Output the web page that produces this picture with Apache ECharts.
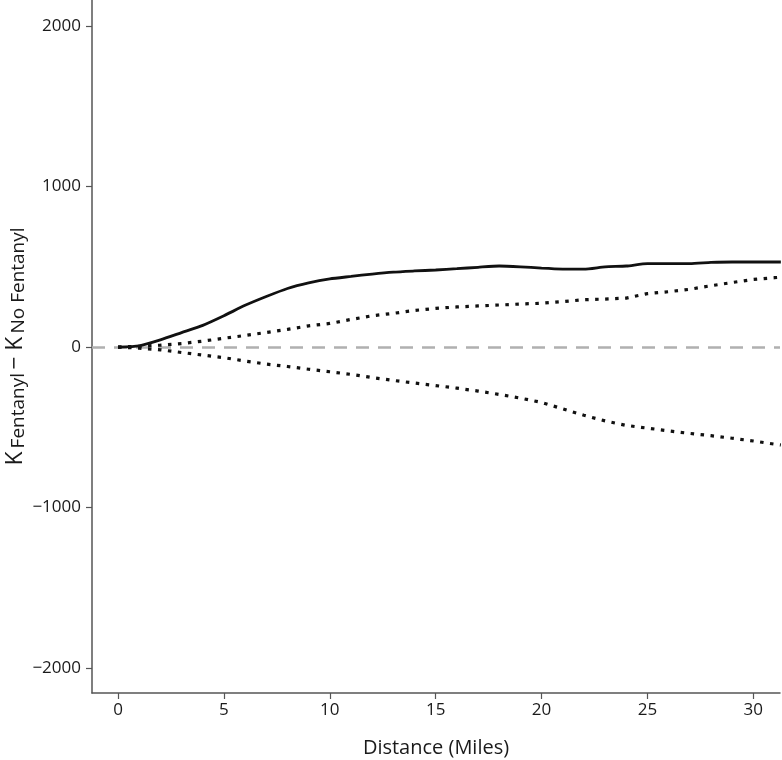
<!DOCTYPE html>
<html>
<head>
<meta charset="utf-8">
<script src="https://cdn.jsdelivr.net/npm/echarts@6/dist/echarts.min.js"></script>
<style>html,body{margin:0;padding:0;background:#fff}#c{width:782px;height:760px}</style>
</head>
<body>
<div id="c"></div>
<script>
var distance = [0,1,2,3,4,5,6,7,8,9,10,11,12,13,14,15,16,17,18,19,20,21,22,23,24,25,26,27,28,29,30,31,31.3];
var observed = [0,8,45,90,135,195,260,315,365,400,425,440,455,467,474,480,488,497,505,500,492,486,485,500,505,520,520,520,527,530,530,530,530];
var upperEnvelope = [0,5,12,22,37,55,72,91,110,132,147,172,195,210,228,241,250,256,262,268,273,283,295,299,305,333,345,360,382,402,421,432,435];
var lowerEnvelope = [0,-7,-17,-34,-50,-66,-87,-106,-121,-138,-154,-170,-190,-208,-224,-240,-256,-274,-295,-318,-345,-385,-425,-460,-488,-505,-522,-538,-552,-568,-585,-605,-610];
var xTicks = [0,5,10,15,20,25,30];
var yTicks = [-2000,-1000,0,1000,2000];

function pairs(ys){ return distance.map(function(d,i){ return [d, ys[i]]; }); }

var font = '"Open Sans", "Noto Sans", sans-serif';
var chart = echarts.init(document.getElementById('c'), null, {renderer:'canvas'});
chart.setOption({
  animation:false,
  backgroundColor:'#fff',
  grid:{left:92, right:2, top:0, bottom:67, containLabel:false, outerBoundsMode:'none'},
  xAxis:{
    type:'value', min:-1.23, max:31.26,
    name:'Distance (Miles)', nameLocation:'middle', nameGap:45, nameMoveOverlap:false,
    nameTextStyle:{fontFamily:font, fontSize:20, color:'#1a1a1a'},
    axisLine:{show:true, onZero:false, lineStyle:{color:'#555', width:1.5}},
    axisTick:{show:true, length:6, customValues:xTicks, lineStyle:{color:'#555', width:1.2}},
    axisLabel:{customValues:xTicks, fontFamily:font, fontSize:17, color:'#1a1a1a', margin:9},
    splitLine:{show:false}
  },
  yAxis:{
    type:'value', min:-2155, max:2162,
    name:'{k|K} {s|Fentanyl} {k|− K} {s|No Fentanyl}', nameLocation:'middle', nameGap:65, nameMoveOverlap:false,
    nameTextStyle:{
      fontFamily:font, color:'#1a1a1a',
      rich:{
        k:{fontFamily:font, fontSize:23, color:'#1a1a1a', verticalAlign:'bottom', lineHeight:26},
        s:{fontFamily:font, fontSize:19, color:'#1a1a1a', verticalAlign:'bottom', lineHeight:26, padding:[0,0,-1,0]}
      }
    },
    axisLine:{show:true, onZero:false, lineStyle:{color:'#555', width:1.5}},
    axisTick:{show:true, length:6, customValues:yTicks, lineStyle:{color:'#555', width:1.2}},
    axisLabel:{customValues:yTicks, fontFamily:font, fontSize:17, color:'#1a1a1a', margin:11,
      formatter:function(v){ return v < 0 ? '\u2212' + Math.abs(v) : String(v); }},
    splitLine:{show:false}
  },
  series:[
    {type:'line', data:pairs(upperEnvelope), showSymbol:false, symbol:'none', z:3,
      lineStyle:{color:'#111', width:3.2, type:[3.5,6.5], cap:'butt'},
      markLine:{silent:true, symbol:'none', label:{show:false}, z:2,
        lineStyle:{color:'#b0b0b0', width:2.5, type:[13,9]}, data:[{yAxis:0}]}},
    {type:'line', data:pairs(lowerEnvelope), showSymbol:false, symbol:'none', z:3,
      lineStyle:{color:'#111', width:3.2, type:[3.5,6.5], cap:'butt'}},
    {type:'line', data:pairs(observed), showSymbol:false, symbol:'none', z:4, smooth:0.2,
      lineStyle:{color:'#111', width:2.8}}
  ]
});
</script>
</body>
</html>
